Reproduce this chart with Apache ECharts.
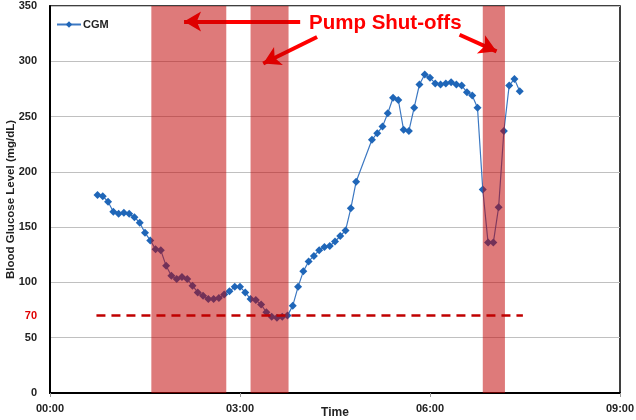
<!DOCTYPE html>
<html>
<head>
<meta charset="utf-8">
<script src="https://cdn.jsdelivr.net/npm/echarts@6/dist/echarts.min.js"></script>
<style>
html,body{margin:0;padding:0;background:#fff;}
#chart{width:636px;height:420px;}
</style>
</head>
<body>
<div id="chart"></div>
<script>
// ---- data ----
const times = [
 '00:45','00:50','00:55','01:00','01:05','01:10','01:15','01:20','01:25','01:30',
 '01:35','01:40','01:45','01:50','01:55','02:00','02:05','02:10','02:15','02:20',
 '02:25','02:30','02:35','02:40','02:45','02:50','02:55','03:00','03:05','03:10',
 '03:15','03:20','03:25','03:30','03:35','03:40','03:45','03:50','03:55','04:00',
 '04:05','04:10','04:15','04:20','04:25','04:30','04:35','04:40','04:45','04:50',
 '04:55','05:00','05:05','05:10','05:15','05:20','05:25','05:30','05:35','05:40',
 '05:45','05:50','05:55','06:00','06:05','06:10','06:15','06:20','06:25','06:30',
 '06:35','06:40','06:45','06:50','06:55','07:00','07:05','07:10','07:15','07:20',
 '07:25'
];
const cgm = [
 179,178,173,164,162,163,162,159,154,145,
 138,130,129,115,106,103,105,103,97,91,
 88,85,85,86,89,92,96,96,91,85,
 84,80,73,69,68,69,70,79,96,110,
 119,124,129,132,133,137,142,147,167,191,
 null,null,229,235,241,253,267,265,238,237,
 258,279,288,285,280,279,280,281,279,278,
 272,269,258,184,136,136,168,237,278,284,
 273
];
const shutoffs = [['01:36','02:47'], ['03:10','03:46'], ['06:50','07:11']];
const threshold = 70;
const thresholdRange = ['00:44','07:28'];
const xTicks = ['00:00','03:00','06:00','09:00'];
const yTicks = [0,50,100,150,200,250,300,350];

function toMin(s){ const p = s.split(':'); return (+p[0])*60 + (+p[1]); }
function fmt(m){ const h = Math.floor(m/60), mm = m%60; return (h<10?'0':'')+h+':'+(mm<10?'0':'')+mm; }

const seriesData = times.map((t,i)=>[toMin(t), cgm[i]]);
const shutoffData = shutoffs.map(s=>[toMin(s[0]), toMin(s[1])]);
const xMin = toMin(xTicks[0]), xMax = toMin(xTicks[xTicks.length-1]);
const xInterval = toMin(xTicks[1]) - toMin(xTicks[0]);
const yMin = yTicks[0], yMax = yTicks[yTicks.length-1];

const FONT = '"Liberation Sans", Arial, sans-serif';
const chart = echarts.init(document.getElementById('chart'), null, {renderer:'canvas'});

chart.setOption({
  animation:false,
  backgroundColor:'#fff',
  grid:{left:50, right:16, top:6, bottom:27, show:true, borderColor:'#000', borderWidth:1.5, containLabel:false, outerBoundsMode:'none'},
  legend:{
    data:['CGM'], left:51, top:14, itemWidth:24, itemHeight:8, itemGap:4,
    textStyle:{fontFamily:FONT, fontWeight:'bold', fontSize:11, color:'#222', padding:[0,0,0,-3]}
  },
  xAxis:{
    type:'value', min:xMin, max:xMax, interval:xInterval,
    name:'Time', nameLocation:'middle', nameGap:14, nameMoveOverlap:false,
    nameTextStyle:{fontFamily:FONT, fontWeight:'bold', fontSize:12, color:'#222'},
    axisLine:{show:true, onZero:false, lineStyle:{color:'#000', width:2}},
    axisTick:{show:true, length:4, lineStyle:{color:'#999'}},
    axisLabel:{formatter:v=>fmt(v), fontFamily:FONT, fontWeight:'bold', fontSize:11, color:'#222', margin:10},
    splitLine:{show:false}
  },
  yAxis:[{
    type:'value', min:yMin, max:yMax, interval:yTicks[1]-yTicks[0],
    name:'Blood Glucose Level (mg/dL)', nameLocation:'middle', nameGap:33, nameRotate:90, nameMoveOverlap:false,
    nameTextStyle:{fontFamily:FONT, fontWeight:'bold', fontSize:11.5, color:'#222'},
    axisLine:{show:true, lineStyle:{color:'#000', width:2}},
    axisTick:{show:false},
    axisLabel:{fontFamily:FONT, fontWeight:'bold', fontSize:11, color:'#222', margin:13},
    splitLine:{show:true, lineStyle:{color:'#C0C0C0', width:1}}
  },{
    type:'value', min:yMin, max:yMax, interval:10, position:'left',
    axisLine:{show:false}, axisTick:{show:false}, splitLine:{show:false},
    axisLabel:{formatter:v=>v===threshold?String(threshold):'', fontFamily:FONT, fontWeight:'bold', fontSize:11, color:'#E00000', margin:13}
  }],
  graphic:[{
    type:'text', left:309, top:13, z:100,
    style:{text:'Pump Shut-offs', fill:'#FF0000', font:'bold 20.5px '+FONT}
  }],
  series:[{
    name:'CGM', type:'line', data:seriesData, connectNulls:true, z:2,
    symbol:'diamond', symbolSize:8,
    itemStyle:{color:'#1F66B8'},
    lineStyle:{color:'#3C78C2', width:1.2},
    markLine:{
      silent:true, symbol:['none','none'],
      lineStyle:{color:'#C00000', width:2.5, type:[9,6]},
      label:{show:false},
      data:[[{coord:[toMin(thresholdRange[0]), threshold]},{coord:[toMin(thresholdRange[1]), threshold]}]]
    }
  },{
    name:'shutoff', type:'custom', data:shutoffData, z:10, silent:true,
    encode:{x:[0,1]},
    renderItem:function(params, api){
      const p0 = api.coord([api.value(0), yMax]);
      const p1 = api.coord([api.value(1), yMin]);
      return {type:'rect', shape:{x:p0[0], y:p0[1], width:p1[0]-p0[0], height:p1[1]-p0[1]},
              style:{fill:'rgba(192,0,0,0.52)'}};
    }
  },{
    name:'arrows', type:'line', data:[], z:20,
    markLine:{
      silent:true, symbol:['none','arrow'], symbolSize:[15,17],
      lineStyle:{color:'#FF0000', width:4, type:'solid'},
      label:{show:false},
      data:[
        [{coord:[237,336]},{coord:[127,336]}],
        [{coord:[253,322]},{coord:[202,298]}],
        [{coord:[388,324]},{coord:[423,309]}]
      ]
    }
  }]
});
</script>
</body>
</html>
